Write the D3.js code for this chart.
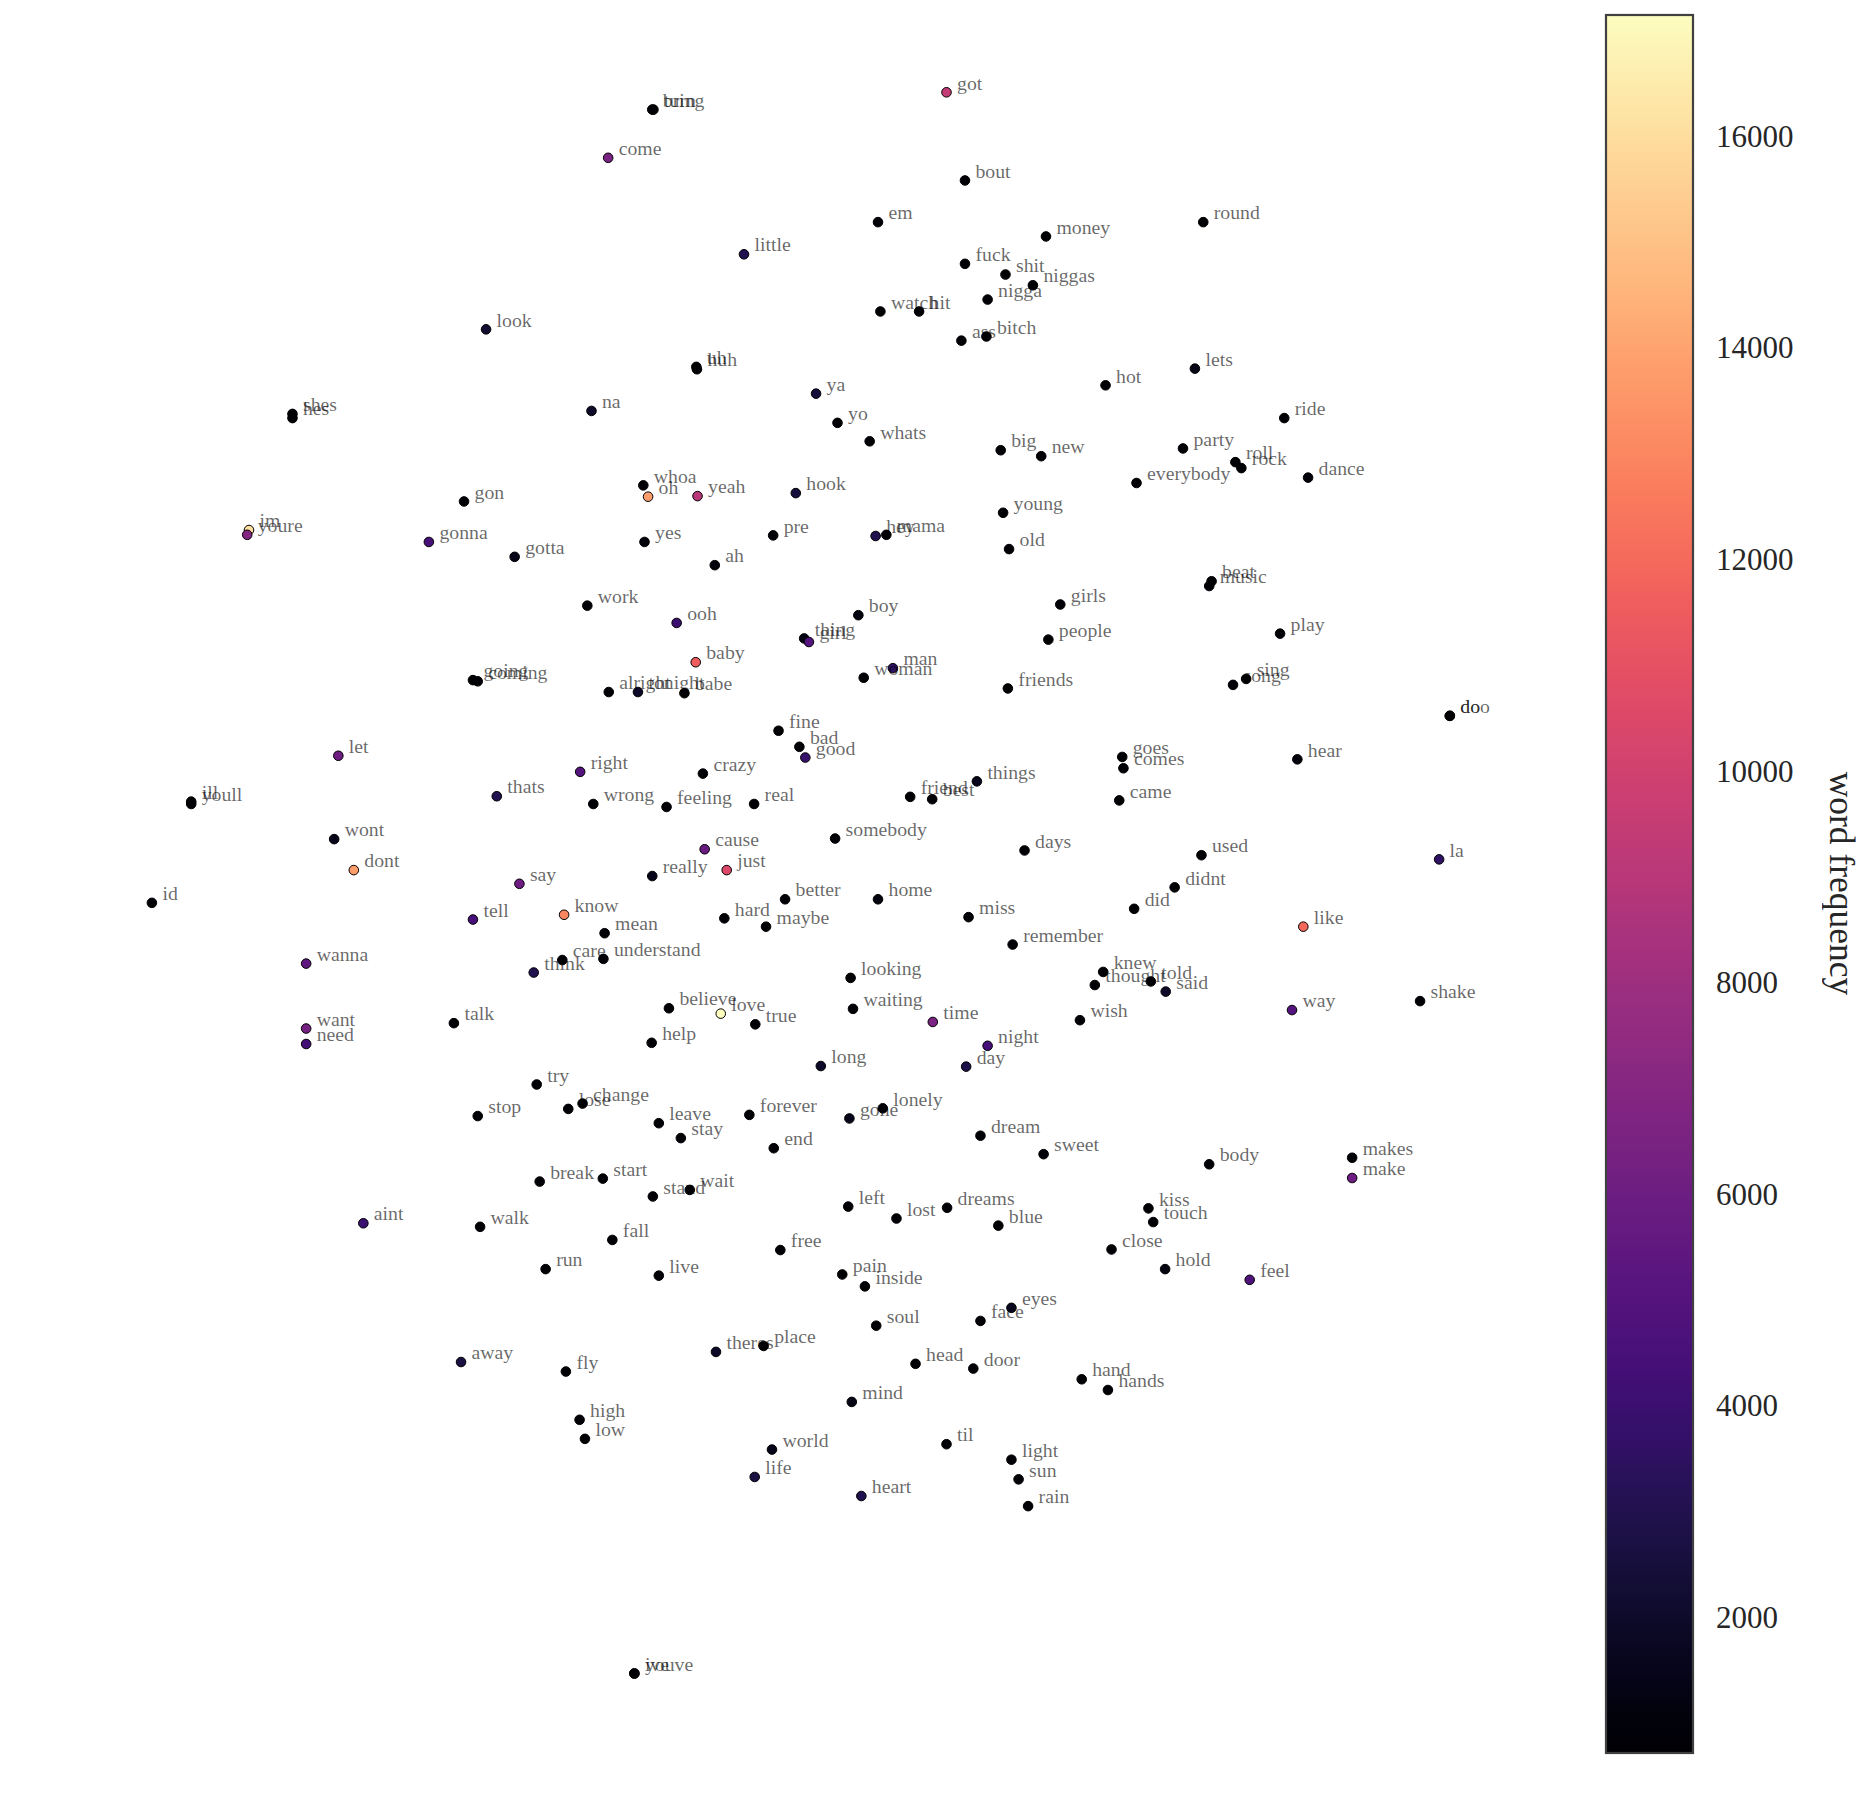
<!DOCTYPE html>
<html><head><meta charset="utf-8">
<script src="https://cdn.jsdelivr.net/npm/d3@7"></script>
<style>html,body{margin:0;padding:0;background:#fff}svg{display:block}</style>
</head><body><svg id="c" width="1868" height="1820"></svg>
<script>
const words=["turn","bring","got","come","bout","em","money","round","little","fuck","shit","niggas","nigga","watch","hit","look","ass","bitch","uh","huh","hot","lets","ya","shes","hes","na","yo","whats","ride","big","new","party","roll","rock","dance","everybody","whoa","oh","yeah","hook","young","gon","im","youre","gonna","gotta","yes","pre","hey","mama","ah","old","work","ooh","boy","beat","music","girls","thing","girl","people","play","baby","man","woman","sing","song","friends","going","coming","alright","tonight","babe","do","doo","fine","bad","good","goes","comes","hear","let","right","crazy","things","friend","best","thats","wrong","feeling","real","came","ill","youll","wont","cause","somebody","days","used","la","dont","just","really","say","didnt","better","home","id","did","tell","know","hard","miss","mean","maybe","like","remember","wanna","care","understand","think","knew","looking","told","thought","said","believe","waiting","love","true","talk","time","way","shake","want","need","wish","help","night","long","day","try","stop","lose","change","lonely","forever","gone","leave","stay","end","dream","sweet","makes","body","make","break","start","wait","stand","left","dreams","lost","kiss","touch","blue","aint","walk","fall","close","free","run","live","hold","pain","inside","feel","eyes","face","soul","theres","place","away","head","door","fly","hand","hands","mind","high","low","til","world","light","life","sun","heart","rain","ive","youve"];
const tsneX=[548.5,547.5,794.5,510.5,810,737,878,1010,624.5,810,844,867,829,739,771.5,408,807,828,584.5,585,928,1003,685,245.5,245.5,496.5,703,730,1078,840,874,993,1037,1042,1098,954,540,544,585.5,668,842,389.5,209,207.5,360,432,541,649,735,744,600,847,493,568,720.5,1017,1015,890,675,679,880,1074.5,584,749.5,725,1046,1035,846,397,401,511,535.5,574.5,1217,1217,653.5,671,676,942,943,1089,284,487,590,820,764,782.5,417,498,559.5,633,939.5,160.5,160.5,280.5,591.5,701,860,1008.5,1208,297,610,547.5,436,986,659,737,127.5,952,397,473.5,608,813,507.5,643,1094,850,257,472,506.5,448,926,714,966,919,978.5,561.5,716,605,634,381,783,1084.5,1192,257,257,906.5,547,829,689,811,450.5,401,477,489,741,629,713,553,571.5,649.5,823,876,1135,1015,1135,453,506,579,548,712,795,752.5,964,968,838,305,403,514,933,655,458,553,978,707,726,1049,849,823,735.5,601,641,387,768.5,817,475,908,930,715,486.5,491,794.5,648,849,633.5,855,723,863,532.5,532.5];
const tsneY=[92,92,77.5,132.5,151.5,186.5,198.5,186.5,213.5,221.5,230.5,239.5,251.5,261.5,261.5,276.5,286,282.5,308,310,323.5,309.5,330.5,347.5,351,345,355,370.5,351,378,383,376.5,388,393,401,405.5,407.5,417,416.5,414,430.5,421,445,449,455,467.5,455,449.5,450,449,474.5,461,508.5,523,516.5,488,492,507.5,536,539,537,532,556,561,569,570,575,578,571,572,581,581,582,601,601,613.5,627,636,635.5,645,637.5,634.5,648,649.5,656,669,671,668.5,675,677.5,675,672,673,675,704.5,713,704,714,718,721.5,730.5,730.5,735.5,742,745,755,755,758,763,772,768,771,770,783.5,778,778,793,809,806,805,816.5,816,821,824,827,832.5,846.5,847,851,860,859,858,848,840.5,863.5,876.5,856.5,875.5,878,895,895.5,910.5,937,931,926.5,930.5,936,939,943,955.5,964,953.5,969,972,977.5,989,992,989.5,999,1004.5,1013,1014,1023,1014.5,1026,1029,1027,1030,1041,1049,1049.5,1065.5,1071,1065.5,1070,1080,1074.5,1098,1109,1113,1135,1130,1143.5,1145,1149,1151.5,1158,1167,1177,1192,1208,1212.5,1217,1225.5,1240,1242,1256,1264.5,1405,1405];
const frequency=[750,750,9500,6500,800,1000,800,900,3000,800,800,800,800,800,800,2200,800,800,800,800,800,1300,2500,800,800,2000,800,800,800,800,800,800,800,800,1000,800,800,13800,9000,2500,800,800,16000,7000,4500,1500,1000,800,3000,800,1000,800,800,4000,1200,800,800,800,1300,5000,800,800,11500,3500,800,800,800,800,800,800,800,2000,800,800,800,800,800,3800,800,800,1000,6000,5000,800,1500,800,800,3000,800,800,800,800,800,800,1500,5800,800,800,800,3600,13800,10500,1500,6000,800,800,1200,900,800,4500,13000,800,900,800,800,12000,800,5500,800,800,3000,800,800,800,800,2000,800,800,17100,800,800,6500,5000,800,6300,4300,800,800,4500,2000,2800,800,900,800,800,800,800,1500,800,800,800,800,1000,800,800,6000,800,800,800,800,800,800,800,800,800,800,4000,800,800,800,800,800,800,1200,800,800,4800,1700,800,800,2000,800,2700,800,800,800,800,800,1300,800,800,800,1500,800,2700,800,3000,800,800,800];
const colorbarTicks=[2000,4000,6000,8000,10000,12000,14000,16000];
const colorbarLabel="word frequency";
const freqMin=717,freqMax=17141;

const svg=d3.select("#c");
const x=d3.scaleLinear().domain([0,1568]).range([0,1868]);
const y=d3.scaleLinear().domain([0,1528]).range([0,1820]);
const color=d3.scaleSequential(d3.interpolateMagma).domain([freqMin,freqMax]);
const pts=d3.range(words.length).map(i=>({w:words[i],x:tsneX[i],y:tsneY[i],f:frequency[i]}));

svg.append("g").selectAll("circle").data(pts).join("circle")
  .attr("cx",d=>x(d.x)).attr("cy",d=>y(d.y)).attr("r",4.8)
  .attr("fill",d=>color(d.f)).attr("stroke","#000").attr("stroke-width",1);
svg.append("g").attr("opacity",0.999).selectAll("text").data(pts).join("text")
  .attr("x",d=>x(d.x)+10.5).attr("y",d=>y(d.y)-2.8)
  .attr("font-family","'Liberation Serif',serif").attr("font-size",19.75)
  .attr("fill","#000").attr("fill-opacity",0.6).text(d=>d.w);

// colorbar
const cbX=1606,cbW=87,cbTop=15,cbBot=1753;
const cbY=d3.scaleLinear().domain([freqMin,freqMax]).range([cbBot,cbTop]);
const grad=svg.append("defs").append("linearGradient").attr("id","g").attr("x1",0).attr("y1",1).attr("x2",0).attr("y2",0);
d3.range(0,1.0001,0.02).forEach(t=>grad.append("stop").attr("offset",t).attr("stop-color",d3.interpolateMagma(t)));
svg.append("rect").attr("x",cbX).attr("y",cbTop).attr("width",cbW).attr("height",cbBot-cbTop)
  .attr("fill","url(#g)").attr("stroke","#404040").attr("stroke-width",2.2);
svg.append("g").attr("opacity",0.999).selectAll("text").data(colorbarTicks).join("text")
  .attr("x",1716).attr("y",d=>cbY(d)).attr("dy","0.35em")
  .attr("font-family","'Liberation Serif',serif").attr("font-size",31).attr("fill","#262626")
  .text(d=>d);
svg.append("text").attr("opacity",0.999).attr("transform",`translate(1830,${(772+995)/2}) rotate(90)`)
  .attr("text-anchor","middle").attr("font-family","'Liberation Serif',serif").attr("font-size",35.5)
  .attr("fill","#262626").text(colorbarLabel);
</script></body></html>
